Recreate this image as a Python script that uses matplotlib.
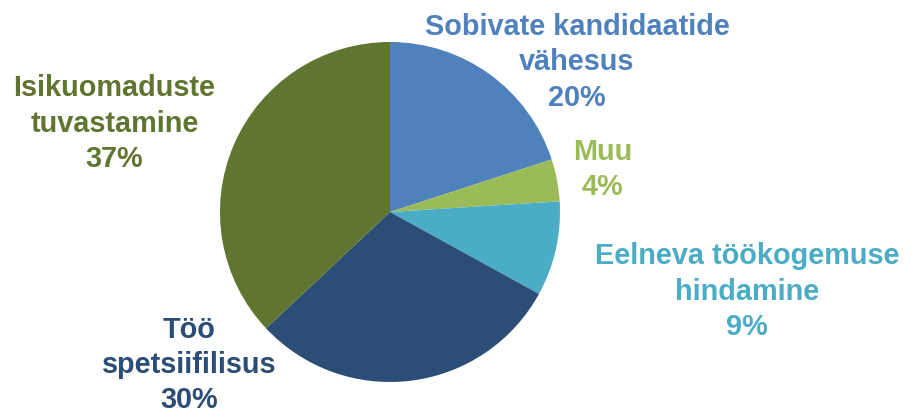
import matplotlib.pyplot as plt

labels = ['Sobivate kandidaatide\nvähesus', 'Muu', 'Eelneva töökogemuse\nhindamine',
          'Töö\nspetsiifilisus', 'Isikuomaduste\ntuvastamine']
values = [20, 4, 9, 30, 37]
colors = ['#4F81BD', '#9BBB59', '#4BACC6', '#2C4D75', '#5F7530']
# label centers in data coords (pie radius = 1)
label_pos = [(1.10, 0.88), (1.25, 0.25), (2.10, -0.47), (-1.18, -0.90), (-1.62, 0.52)]

fig = plt.figure(figsize=(9.12, 4.17), dpi=100)
ax = fig.add_axes([220 / 912, 35 / 417, 340 / 912, 340 / 417])
ax.pie(values, colors=colors, startangle=90, counterclock=False, radius=1,
       wedgeprops=dict(linewidth=0))
ax.set_xlim(-1, 1)
ax.set_ylim(-1, 1)
ax.set_aspect('equal')
ax.axis('off')

for lab, v, c, (x, y) in zip(labels, values, colors, label_pos):
    ax.text(x, y, f'{lab}\n{v}%', color=c, ha='center', va='center',
            fontsize=20.8, fontweight='bold', family='Liberation Sans',
            linespacing=1.34, clip_on=False)

fig.savefig('out.png', dpi=100)
